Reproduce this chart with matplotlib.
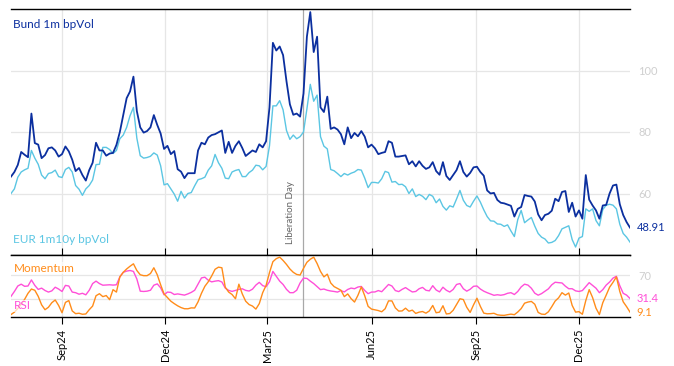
import numpy as np
import pandas as pd
import matplotlib
matplotlib.use('Agg')
import matplotlib.pyplot as plt
import matplotlib.dates as mdates
import matplotlib.transforms as mtransforms

plt.rcParams['font.family'] = ['Lato', 'DejaVu Sans']

# every third calendar day, 18 Jul 2024 .. 15 Jan 2026
dates = pd.date_range('2024-07-18', periods=183, freq='3D')

bund = [65.5, 67, 69.3, 73.5, 72.6, 71.8, 86, 76.4, 75.9, 71.5,
        72.5, 74.7, 75, 74, 72, 72.8, 75.3, 73.7, 71, 67.3,
        68.3, 66, 64.2, 67.6, 70, 76.5, 74, 74, 72.3, 73,
        73.2, 75.8, 80, 85.5, 91, 93.2, 98, 86.8, 81.5, 79.8,
        80.3, 81.5, 85.5, 82.3, 79.5, 74.5, 75.5, 72.8, 73.8, 67.9,
        67.1, 65, 66.6, 66.6, 66.6, 74, 76.5, 76, 78.2, 79,
        79.3, 79.9, 80.5, 73.2, 76.8, 73.2, 75.5, 77, 74.8, 72.2,
        73.1, 74, 73.5, 76, 75, 77, 88, 109, 106.5, 107.8,
        105, 96.5, 89, 85.6, 86, 85, 92.5, 111, 119, 106,
        111, 88, 86.5, 91.5, 81, 81.5, 80.8, 79.3, 76, 81.5,
        78, 79.7, 78.6, 80.3, 78.5, 75, 75.9, 74.7, 72.8, 73.2,
        73.5, 77, 76.5, 72, 72, 72.2, 72.4, 69.5, 70.5, 68.8,
        70.5, 69, 68, 68.5, 70.2, 67.3, 66.1, 70.2, 65.7, 64.4,
        66, 67.6, 70.5, 67, 65.5, 66.7, 68.5, 68.7, 67, 65.8,
        61, 60, 60.2, 57.9, 57, 56.8, 56.4, 56, 52.5, 55,
        55.6, 59.5, 59.2, 59, 57.4, 53.2, 51.3, 53, 53.4, 54.4,
        58.3, 57.5, 60.5, 60.8, 54, 57, 52.5, 54.5, 51.8, 66,
        58, 56.1, 54.5, 51.8, 56.1, 56.3, 60, 62.6, 62.9, 56.5,
        53, 50.7, 48.91]

eur = [60, 61.5, 65.3, 67, 67.7, 68.2, 74, 71.5, 69.5, 66,
       64.8, 66.5, 66.8, 67.6, 65.5, 65.2, 67.8, 68.5, 67, 62.6,
       61.4, 59.4, 61.5, 62.6, 64.4, 69.4, 69.5, 75, 75, 74.3,
       73, 74, 77.8, 79, 81.5, 85.3, 88, 78, 72.3, 71.5,
       71.7, 72.1, 73.2, 72.5, 69, 62.8, 63.2, 61.5, 59.8, 57.5,
       60.7, 58.5, 60, 60.3, 62.5, 64.5, 64.8, 65.3, 67.6, 69,
       72.7, 70, 68.2, 65, 64.8, 67, 67.5, 67.8, 65.5, 65.5,
       66.8, 67.6, 69.2, 69, 67.7, 68.8, 75.5, 88.5, 88.5, 90.2,
       87.2, 80.5, 77.6, 79, 77.8, 78.5, 80, 87.5, 95.5, 90,
       92, 78.5, 75.4, 74.5, 67.8, 67.4, 66.5, 65.5, 66.5, 66,
       66.6, 67, 67.8, 67.6, 65, 61.9, 63.6, 63.6, 63.4, 64.8,
       67.2, 66.8, 63.7, 63.9, 62.9, 63, 62.2, 60, 61.5, 59,
       59.7, 59.1, 58, 59.7, 59.1, 57, 58.2, 55.8, 54.6, 56,
       55.6, 58.2, 61, 57.8, 56.1, 55.6, 57.5, 59.2, 57.2, 54.7,
       52.5, 51.1, 51, 50.1, 50, 49.3, 49.8, 47.8, 46, 51.5,
       54.5, 50.5, 51.4, 52.2, 49.4, 47, 45.8, 45.2, 43.9, 44.1,
       44.7, 46.3, 48.5, 49, 49.5, 45, 42.6, 45.5, 46, 55,
       54.2, 55, 51.2, 49.5, 54.8, 56.2, 56.5, 56.2, 55, 50,
       47, 45.8, 44.2]

momentum = [5, 9, 15, 22, 30, 40, 47, 45, 35, 21,
            13, 17, 24.5, 29, 20, 8, 25, 28, 11, 6.5,
            7.2, 5.5, 6, 13, 19, 36, 39.3, 34.5, 36.3, 29.5,
            46, 42, 67, 74.5, 80, 84.5, 88.5, 77.5, 70.5, 69,
            69, 72.5, 82, 70.5, 54, 39, 33, 27, 23, 19.4,
            16.5, 14.6, 14.5, 16, 15.8, 26, 40, 51.5, 59, 68.5,
            79.5, 83, 82, 50, 42, 38, 31, 55, 39, 27,
            21.5, 19, 14, 23, 41, 53, 74, 92, 97, 99.5,
            94, 87.5, 80, 74.5, 71, 70, 81, 91, 96, 99.5,
            89, 76, 67, 71.5, 57, 51, 48, 45, 34.5, 39,
            31.2, 25.6, 36.6, 50.5, 36, 18.5, 14, 12.8, 11.6, 9.6,
            14.5, 27.5, 27.5, 16, 10.7, 11, 15.5, 10.5, 12.3, 6.9,
            9, 10, 7.3, 11, 20, 8, 9, 19.5, 6, 6.7,
            12, 21.5, 31, 29.7, 17, 8.5, 21, 31.9, 18.5, 7.4,
            6.3, 6.5, 7.1, 4.6, 3.9, 3.7, 4.8, 5.7, 4.8, 9.2,
            14.8, 23.7, 25.6, 26.6, 22, 8.5, 5.7, 5.3, 9.5, 18,
            27.3, 32.5, 41, 37, 40.5, 20, 9, 9.8, 5.5, 28,
            46, 33, 15.5, 5, 24.5, 37, 50, 58, 67, 43,
            26, 18, 9.1]

rsi = [35, 43, 52, 55, 51.5, 52, 62, 53, 46.4, 48.5,
       44.6, 42, 44, 50, 47, 43, 53, 52, 42, 41,
       38.5, 40, 37.5, 45, 56, 60, 56, 53.3, 53.6, 54,
       53.5, 54, 67, 74.5, 76.5, 77.5, 76, 63.5, 43.5, 43,
       43.5, 45, 53.3, 55.5, 49, 37.5, 42, 41.5, 38, 39,
       38, 37, 39, 41.5, 45, 55, 65.3, 66.5, 61.5, 58.8,
       60, 60.8, 58.6, 48.5, 44.8, 43.1, 44.8, 46.4, 47.4, 44.8,
       43.7, 46.8, 53.5, 58, 52.6, 50.8, 59, 76, 68, 60,
       54.5, 46.5, 41, 41, 45, 57, 65, 64.5, 60, 56,
       51, 46, 47, 45, 43.8, 43, 42, 44.5, 42.2, 46.3,
       48.6, 47.5, 50.3, 51.3, 44.6, 39.4, 42, 42.2, 44.5, 42.6,
       48.5, 54.5, 52, 44.5, 42.8, 46.5, 49.4, 45.6, 42.2, 43,
       47.5, 49.7, 45, 44, 52.5, 45.5, 42.3, 50, 45, 42.1,
       46.3, 54.5, 56, 47.5, 43.5, 46.6, 51.5, 52, 47, 43.5,
       41, 38.8, 36.7, 37.6, 36.8, 37.8, 40, 41, 38, 43,
       50.5, 55, 53.5, 48.3, 40.2, 36.9, 39.5, 43.5, 47.3, 54,
       58.2, 57.5, 57, 51.7, 47.5, 47.5, 44, 43, 44.5, 51,
       57.5, 53, 48.4, 41, 46, 53.5, 58.5, 65, 68, 52.5,
       40, 37, 31.4]

tick_dates = pd.to_datetime(['2024-09-01', '2024-12-01', '2025-03-01',
                             '2025-06-01', '2025-09-01', '2025-12-01'])
lib_day = pd.Timestamp('2025-04-02')

c_bund = '#0b2f9f'
c_eur = '#5bc6e3'
c_mom = '#ff8c1a'
c_rsi = '#ff4fd8'
c_grid = '#e6e6e6'
c_tick = '#cfcfcf'

fig = plt.figure(figsize=(6.74, 3.66), dpi=100)
ax1 = fig.add_axes([11/674, 111/366, 619/674, 246/366])
ax2 = fig.add_axes([11/674, 49/366, 619/674, 62/366], sharex=ax1)

ax1.plot(dates, eur, color=c_eur, lw=1.0, zorder=3)
ax1.plot(dates, bund, color=c_bund, lw=1.3, zorder=4)
ax2.plot(dates, rsi, color=c_rsi, lw=1.0, zorder=3)
ax2.plot(dates, momentum, color=c_mom, lw=1.0, zorder=4)

ax1.set_xlim(dates[0], dates[-1])
ax1.set_ylim(40, 120)
ax2.set_ylim(1, 103)

for ax in (ax1, ax2):
    ax.set_xticks(tick_dates)
    ax.grid(True, color=c_grid, lw=0.9, zorder=0)
    ax.spines['left'].set_visible(False)
    ax.spines['right'].set_visible(False)
    ax.spines['top'].set_linewidth(1.0)
    ax.spines['bottom'].set_linewidth(1.0)
    ax.yaxis.tick_right()
    ax.tick_params(axis='y', length=0, pad=6, labelcolor=c_tick, labelsize=8)
    ax.axvline(lib_day, color='#a8a8a8', lw=0.9, zorder=2)

ax1.set_yticks([60, 80, 100])
ax2.set_yticks([30, 70])
ax2.set_yticklabels(['', '70'])

ax1.tick_params(axis='x', direction='in', length=5, labelbottom=False)
ax2.tick_params(axis='x', direction='out', length=5, labelsize=8, labelrotation=90)
ax2.xaxis.set_major_formatter(mdates.DateFormatter('%b%y'))

ax1.annotate('Liberation Day', xy=(lib_day, 43.5), xytext=(-9, 0),
             textcoords='offset points', rotation=90, ha='center', va='bottom',
             fontsize=7, color='#666666')

ax1.text(0.004, 0.935, 'Bund 1m bpVol', transform=ax1.transAxes,
         color=c_bund, fontsize=8.5, va='center')
ax1.text(0.004, 0.065, 'EUR 1m10y bpVol', transform=ax1.transAxes,
         color=c_eur, fontsize=8.5, va='center')
ax2.text(0.004, 0.79, 'Momentum', transform=ax2.transAxes, color=c_mom,
         fontsize=8.5, va='center', zorder=6,
         bbox=dict(facecolor='white', alpha=0.7, edgecolor='none', pad=0.5))
ax2.text(0.004, 0.18, 'RSI', transform=ax2.transAxes, color=c_rsi,
         fontsize=8.5, va='center', zorder=6,
         bbox=dict(facecolor='white', alpha=0.7, edgecolor='none', pad=0.5))

# last-value tags on the right
tr1 = mtransforms.blended_transform_factory(ax1.transAxes, ax1.transData)
tr2 = mtransforms.blended_transform_factory(ax2.transAxes, ax2.transData)
ax1.text(1.011, bund[-1], f'{bund[-1]:.2f}', transform=tr1, color=c_bund,
         fontsize=8, va='center')
ax2.text(1.011, rsi[-1], f'{rsi[-1]:.1f}', transform=tr2, color=c_rsi,
         fontsize=8, va='center')
ax2.text(1.011, momentum[-1], f'{momentum[-1]:.1f}', transform=tr2, color=c_mom,
         fontsize=8, va='center')

fig.savefig('out.png', dpi=100)
